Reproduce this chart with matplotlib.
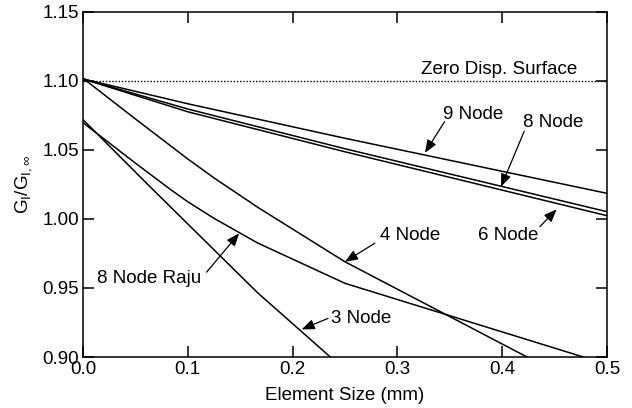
import matplotlib
matplotlib.use("Agg")
import matplotlib.pyplot as plt

plt.rcParams['font.family'] = ['Liberation Sans', 'DejaVu Sans']
plt.rcParams['mathtext.fontset'] = 'custom'
plt.rcParams['mathtext.rm'] = 'Liberation Sans'
plt.rcParams['mathtext.it'] = 'Liberation Sans'

# Data
x_9 = [0.0, 0.1, 0.25, 0.5]
y_9 = [1.1015, 1.0835, 1.0585, 1.0186]
x_8 = [0.0, 0.1, 0.25, 0.5]
y_8 = [1.1015, 1.0797, 1.0509, 1.0053]
x_6 = [0.0, 0.1, 0.25, 0.5]
y_6 = [1.1015, 1.0777, 1.0487, 1.0024]
x_4 = [0.0, 0.05, 0.1, 0.125, 0.1667, 0.25, 0.5]
y_4 = [1.102, 1.0725, 1.0435, 1.0298, 1.0085, 0.969, 0.8697]
x_3 = [0.0, 0.0625, 0.125, 0.1667, 0.25]
y_3 = [1.072, 1.0245, 0.9777, 0.9465, 0.8906]
x_raju = [0.0, 0.05, 0.0833, 0.1, 0.125, 0.1667, 0.25, 0.5]
y_raju = [1.0698, 1.0405, 1.0215, 1.0125, 1.0005, 0.9826, 0.9534, 0.8947]
zero_disp = 1.10

x_ticks = [0.0, 0.1, 0.2, 0.3, 0.4, 0.5]
y_ticks = [0.90, 0.95, 1.00, 1.05, 1.10, 1.15]

# (label, text x, text y, arrow start x, arrow start y, tip x, tip y)
notes = [
    ("9 Node", 0.372, 1.076, 0.345, 1.0705, 0.3263, 1.048),
    ("8 Node", 0.449, 1.0696, 0.421, 1.0635, 0.3989, 1.0234),
    ("6 Node", 0.4055, 0.9877, 0.436, 0.9945, 0.452, 1.007),
    ("4 Node", 0.312, 0.9877, 0.2785, 0.9825, 0.25, 0.969),
    ("3 Node", 0.265, 0.928, 0.2338, 0.928, 0.2087, 0.920),
    ("8 Node Raju", 0.063, 0.957, 0.118, 0.9615, 0.149, 0.9896),
]

fig = plt.figure(figsize=(6.32, 4.08), dpi=100)
ax = fig.add_axes([0.1313, 0.125, 0.8291, 0.8456])

lw = 1.1
for xs, ys in [(x_9, y_9), (x_8, y_8), (x_6, y_6), (x_4, y_4), (x_3, y_3), (x_raju, y_raju)]:
    ax.plot(xs, ys, color='black', lw=lw)

ax.plot([0.0, 0.5], [zero_disp, zero_disp], color='black', lw=1.0, linestyle=(0, (1, 1.3)))
ax.text(0.472, 1.108, "Zero Disp. Surface", ha='right', va='center', fontsize=13.5)

for label, tx, ty, ax0, ay0, px, py in notes:
    ax.text(tx, ty, label, ha='center', va='center', fontsize=13.5)
    ax.annotate('', xy=(px, py), xytext=(ax0, ay0),
                arrowprops=dict(arrowstyle='-|>,head_length=0.55,head_width=0.22',
                                color='black', lw=0.9, shrinkA=0, shrinkB=0,
                                mutation_scale=14))

ax.set_xlim(0.0, 0.5)
ax.set_ylim(0.90, 1.15)
ax.set_xticks(x_ticks)
ax.set_yticks(y_ticks)
ax.set_xticklabels([f"{v:.1f}" for v in x_ticks])
ax.set_yticklabels([f"{v:.2f}" for v in y_ticks])
ax.tick_params(direction='in', length=8, width=1.1, top=True, right=True,
               labelsize=13.5, pad=3)
for s in ax.spines.values():
    s.set_linewidth(1.1)

ax.set_xlabel("Element Size (mm)", fontsize=13.5, labelpad=6)
ax.set_ylabel(r"$\mathregular{G_I/G_{I,\infty}}$", fontsize=13.5, labelpad=6)

fig.savefig("out.png", dpi=100)
